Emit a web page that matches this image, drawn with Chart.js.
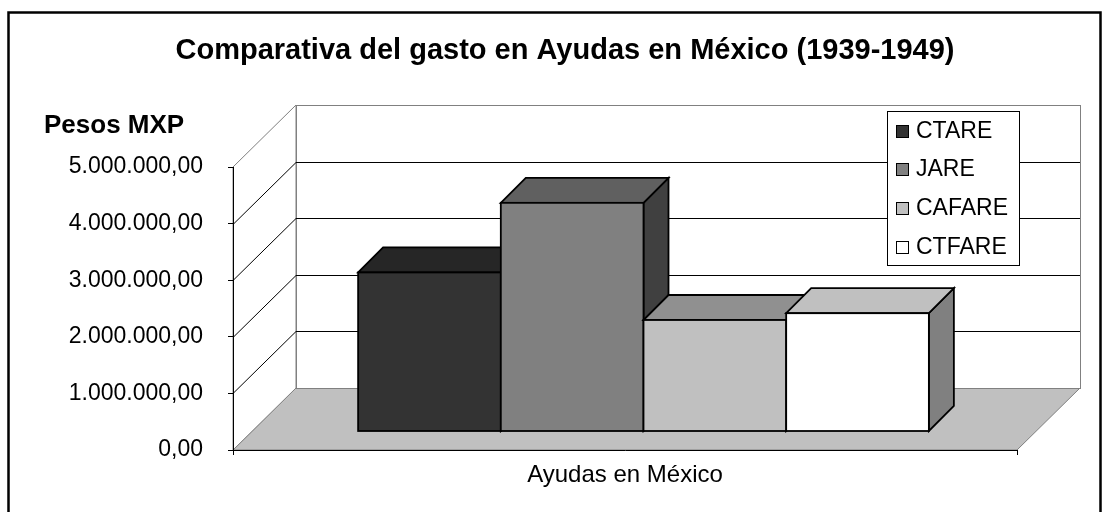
<!DOCTYPE html>
<html>
<head>
<meta charset="utf-8">
<script src="https://cdn.jsdelivr.net/npm/chart.js@4.4.1/dist/chart.umd.min.js"></script>
<style>
  html, body { margin: 0; padding: 0; background: #fff; }
  #wrap { width: 1109px; height: 512px; position: relative; }
</style>
</head>
<body>
<div id="wrap"><canvas id="chart"></canvas></div>
<script>
// datos
const categories = ["Ayudas en México"];
const seriesNames = ["CTARE", "JARE", "CAFARE", "CTFARE"];
const seriesValues = [2810000, 4040000, 1970000, 2090000];
const yMin = 0;
const yMax = 5000000;
const yStep = 1000000;

const chartTitle = "Comparativa del gasto en Ayudas en México (1939-1949)";
const yTitle = "Pesos MXP";

const frontColors = ["#333333", "#808080", "#c0c0c0", "#ffffff"];
const topColors = ["#262626", "#606060", "#909090", "#c0c0c0"];
const sideColors = ["#1a1a1a", "#404040", "#606060", "#808080"];

const FONT = "'Liberation Sans', Arial, sans-serif";

// profundidad de la vista 3D
const WALL_DX = 63, WALL_DY = 62;
const BAR_OFF = 18.5, BAR_DEPTH = 25;

function fmtPesos(v) {
  const s = Math.round(v).toString().replace(/\B(?=(\d{3})+(?!\d))/g, ".");
  return s + ",00";
}

const scene3d = {
  id: "scene3d",
  beforeDraw(chart) {
    const ctx = chart.ctx;
    const area = chart.chartArea;
    const ys = chart.scales.y;
    ctx.save();
    ctx.fillStyle = "#fff";
    ctx.fillRect(0, 0, chart.width, chart.height);

    // marco exterior
    ctx.strokeStyle = "#000";
    ctx.lineWidth = 2.5;
    ctx.strokeRect(8.5, 12.5, 1092, 520);

    // titulos
    ctx.fillStyle = "#000";
    ctx.font = "bold 29px " + FONT;
    ctx.textAlign = "center";
    ctx.textBaseline = "alphabetic";
    ctx.fillText(chartTitle, 565, 59);
    ctx.font = "bold 26px " + FONT;
    ctx.textAlign = "left";
    ctx.fillText(yTitle, 44, 133);

    const L = area.left, R = area.right;
    const y0 = ys.getPixelForValue(yMin);
    const yT = ys.getPixelForValue(yMax);

    // suelo
    ctx.lineWidth = 1;
    ctx.strokeStyle = "#808080";
    ctx.fillStyle = "#c0c0c0";
    ctx.beginPath();
    ctx.moveTo(L, y0);
    ctx.lineTo(R, y0);
    ctx.lineTo(R + WALL_DX, y0 - WALL_DY);
    ctx.lineTo(L + WALL_DX, y0 - WALL_DY);
    ctx.closePath();
    ctx.fill();
    ctx.stroke();

    // pared del fondo
    ctx.fillStyle = "#fff";
    ctx.fillRect(L + WALL_DX, yT - WALL_DY, R - L, y0 - yT);
    ctx.strokeRect(L + WALL_DX + 0.5, yT - WALL_DY + 0.5, R - L, y0 - yT);

    // pared izquierda
    ctx.beginPath();
    ctx.moveTo(L, y0);
    ctx.lineTo(L, yT);
    ctx.lineTo(L + WALL_DX, yT - WALL_DY);
    ctx.lineTo(L + WALL_DX, y0 - WALL_DY);
    ctx.closePath();
    ctx.fill();
    ctx.stroke();

    // lineas de division
    ctx.strokeStyle = "#000";
    for (let v = yMin + yStep; v < yMax; v += yStep) {
      const py = Math.round(ys.getPixelForValue(v)) + 0.5;
      ctx.beginPath();
      ctx.moveTo(L, py);
      ctx.lineTo(L + WALL_DX, py - WALL_DY);
      ctx.lineTo(R + WALL_DX, py - WALL_DY);
      ctx.stroke();
    }
    ctx.restore();
  },
  afterDatasetsDraw(chart) {
    const ctx = chart.ctx;
    ctx.save();
    ctx.lineWidth = 1.8;
    ctx.strokeStyle = "#000";
    ctx.lineJoin = "miter";
    chart.data.datasets.forEach((ds, i) => {
      const meta = chart.getDatasetMeta(i);
      meta.data.forEach((bar) => {
        const p = bar.getProps(["x", "y", "base", "width"], true);
        const l = p.x - p.width / 2 + BAR_OFF;
        const r = p.x + p.width / 2 + BAR_OFF;
        const t = p.y - BAR_OFF;
        const b = p.base - BAR_OFF;
        const d = BAR_DEPTH;
        // lado
        ctx.fillStyle = sideColors[i];
        ctx.beginPath();
        ctx.moveTo(r, t);
        ctx.lineTo(r + d, t - d);
        ctx.lineTo(r + d, b - d);
        ctx.lineTo(r, b);
        ctx.closePath();
        ctx.fill();
        ctx.stroke();
        // tapa
        ctx.fillStyle = topColors[i];
        ctx.beginPath();
        ctx.moveTo(l, t);
        ctx.lineTo(l + d, t - d);
        ctx.lineTo(r + d, t - d);
        ctx.lineTo(r, t);
        ctx.closePath();
        ctx.fill();
        ctx.stroke();
        // frente
        ctx.fillStyle = frontColors[i];
        ctx.fillRect(l, t, r - l, b - t);
        ctx.strokeRect(l, t, r - l, b - t);
      });
    });
    ctx.restore();
  },
  afterDraw(chart) {
    const ctx = chart.ctx;
    ctx.save();
    // leyenda
    ctx.fillStyle = "#fff";
    ctx.strokeStyle = "#000";
    ctx.lineWidth = 1;
    ctx.fillRect(887.5, 111.5, 132, 154);
    ctx.strokeRect(887.5, 111.5, 132, 154);
    ctx.font = "23px " + FONT;
    ctx.textAlign = "left";
    ctx.textBaseline = "alphabetic";
    chart.data.datasets.forEach((ds, i) => {
      const base = 137.5 + i * 38.8;
      ctx.fillStyle = frontColors[i];
      ctx.fillRect(896.5, Math.round(base) - 12.5, 12, 12);
      ctx.strokeRect(896.5, Math.round(base) - 12.5, 12, 12);
      ctx.fillStyle = "#000";
      ctx.fillText(ds.label, 916, base);
    });
    ctx.restore();
  }
};

new Chart(document.getElementById("chart"), {
  type: "bar",
  data: {
    labels: categories,
    datasets: seriesNames.map((name, i) => ({
      label: name,
      data: [seriesValues[i]],
      backgroundColor: "rgba(0,0,0,0)",
      borderWidth: 0,
      categoryPercentage: 0.728,
      barPercentage: 1
    }))
  },
  options: {
    responsive: true,
    maintainAspectRatio: false,
    animation: false,
    events: [],
    layout: { padding: { top: 167, right: 92, bottom: 22, left: 0 } },
    plugins: {
      legend: { display: false },
      title: { display: false },
      tooltip: { enabled: false }
    },
    scales: {
      x: {
        grid: { display: true, drawOnChartArea: false, tickLength: 5, color: "#000", offset: true },
        border: { display: true, color: "#000", width: 1 },
        ticks: { color: "#000", font: { family: FONT, size: 24 }, padding: 6 },
        afterFit(s) { s.height = 40; }
      },
      y: {
        min: yMin,
        max: yMax,
        grid: { drawOnChartArea: false, tickLength: 5, color: "#000" },
        border: { display: true, color: "#000", width: 1 },
        ticks: {
          stepSize: yStep,
          color: "#000",
          font: { family: FONT, size: 23 },
          padding: 25,
          callback: (v) => fmtPesos(v)
        },
        afterFit(s) { s.width = 233; }
      }
    }
  },
  plugins: [scene3d]
});
</script>
</body>
</html>
